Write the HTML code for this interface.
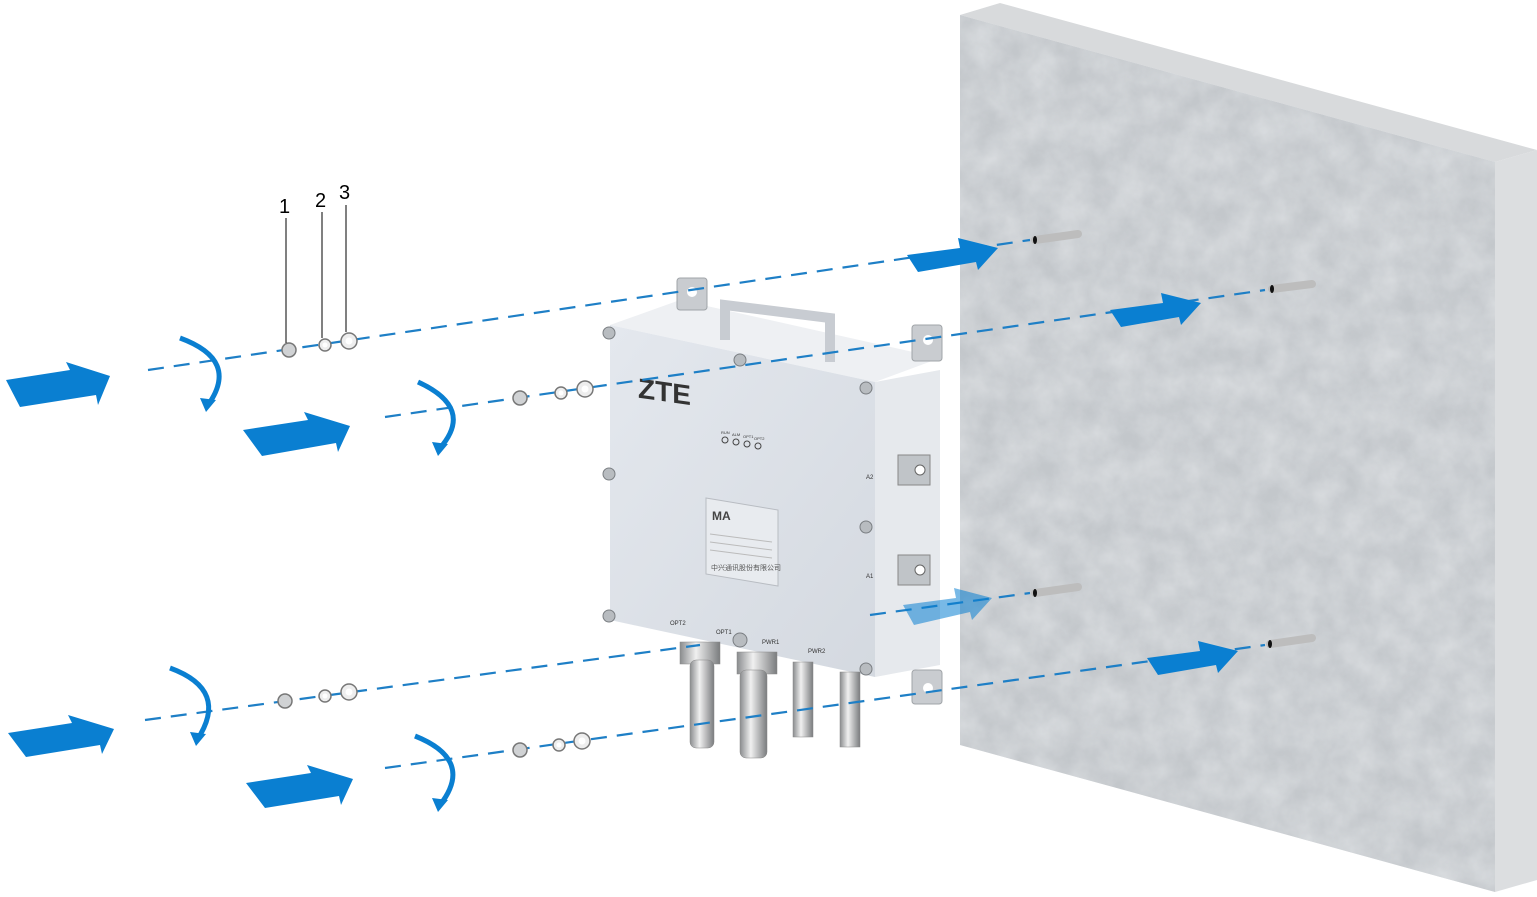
<!DOCTYPE html>
<html><head><meta charset="utf-8"><style>
html,body{margin:0;padding:0;background:#fff;}
svg{display:block;}
text{font-family:"Liberation Sans","Noto Sans CJK SC",sans-serif;}
</style></head><body>
<svg width="1537" height="897" viewBox="0 0 1537 897" xmlns="http://www.w3.org/2000/svg">
<defs>
<filter id="tex" x="0" y="0" width="100%" height="100%">
<feTurbulence type="fractalNoise" baseFrequency="0.035" numOctaves="4" seed="3"/>
<feColorMatrix type="matrix" values="0 0 0 0 0.78  0 0 0 0 0.80  0 0 0 0 0.82  0 0 0 -1.2 1.0"/>
</filter>
<linearGradient id="dev" x1="0" y1="0" x2="1" y2="1"><stop offset="0" stop-color="#e4e8ee"/><stop offset="1" stop-color="#d4d9e0"/></linearGradient>
<linearGradient id="metal" x1="0" y1="0" x2="1" y2="0"><stop offset="0" stop-color="#8a8c8e"/><stop offset=".4" stop-color="#f0f0f0"/><stop offset="1" stop-color="#7a7c7e"/></linearGradient>
</defs>

<!-- wall -->
<polygon points="960,15 1000,3 1537,150 1495,162" fill="#d8dadc"/>
<polygon points="1495,162 1537,150 1537,880 1495,892" fill="#dcdee0"/>
<polygon points="960,15 1495,162 1495,892 960,745" fill="#c3c7cb"/>
<g clip-path="url(#wc)"><clipPath id="wc"><polygon points="960,15 1495,162 1495,892 960,745"/></clipPath>
<rect x="960" y="0" width="540" height="897" fill="#fff" filter="url(#tex)" opacity=".7"/></g>

<!-- wall pins -->
<g stroke-linecap="round">
<line x1="1035" y1="240" x2="1078" y2="234" stroke="#bdbdbd" stroke-width="8"/>
<line x1="1272" y1="289" x2="1312" y2="284" stroke="#bdbdbd" stroke-width="8"/>
<line x1="1035" y1="593" x2="1078" y2="587" stroke="#bdbdbd" stroke-width="8"/>
<line x1="1270" y1="644" x2="1312" y2="638" stroke="#bdbdbd" stroke-width="8"/>
</g>
<g fill="#111"><ellipse cx="1035" cy="240" rx="2" ry="4"/><ellipse cx="1272" cy="289" rx="2" ry="4"/><ellipse cx="1035" cy="593" rx="2" ry="4"/><ellipse cx="1270" cy="644" rx="2" ry="4"/></g>

<!-- device -->
<polygon points="610,325 680,300 940,358 875,382" fill="#eef0f3"/>
<polygon points="875,382 940,370 940,665 875,677" fill="#e6e9ed"/>
<polygon points="610,325 875,382 875,677 610,620" fill="url(#dev)"/>
<path d="M725,340 L725,305 L830,318 L830,362" fill="none" stroke="#c8ccd2" stroke-width="10"/>
<g fill="#c9ccd0" stroke="#a0a4a8"><rect x="677" y="278" width="30" height="32" rx="3"/><rect x="912" y="325" width="30" height="36" rx="3"/><rect x="912" y="670" width="30" height="34" rx="3"/></g>
<g fill="#fff"><circle cx="692" cy="292" r="5"/><circle cx="928" cy="340" r="5"/><circle cx="928" cy="688" r="5"/></g>
<g fill="#b8bcc0" stroke="#7a7e82"><circle cx="609" cy="333" r="6"/><circle cx="609" cy="474" r="6"/><circle cx="609" cy="616" r="6"/><circle cx="740" cy="360" r="6"/><circle cx="866" cy="388" r="6"/><circle cx="866" cy="527" r="6"/><circle cx="866" cy="669" r="6"/><circle cx="740" cy="640" r="7"/></g>
<text x="638" y="398" font-size="28" font-weight="bold" fill="#333" transform="skewY(8) translate(0,-90)">ZTE</text>
<g fill="none" stroke="#444"><circle cx="725" cy="440" r="3"/><circle cx="736" cy="442" r="3"/><circle cx="747" cy="444" r="3"/><circle cx="758" cy="446" r="3"/></g>
<g font-size="4" fill="#333"><text x="721" y="434">RUN</text><text x="732" y="436">ALM</text><text x="743" y="438">OPT1</text><text x="754" y="440">OPT2</text></g>
<polygon points="706,498 778,510 778,586 706,574" fill="#e8ebef" stroke="#b8bcc2"/>
<text x="712" y="520" font-size="12" font-weight="bold" fill="#444">MA</text>
<text x="711" y="570" font-size="7" fill="#555">中兴通讯股份有限公司</text>
<g stroke="#bbb"><line x1="710" y1="534" x2="772" y2="542"/><line x1="710" y1="542" x2="772" y2="550"/><line x1="710" y1="550" x2="772" y2="558"/></g>
<g fill="#c0c4c8" stroke="#888"><rect x="898" y="455" width="32" height="30"/><rect x="898" y="555" width="32" height="30"/></g>
<g fill="#fff" stroke="#666"><circle cx="920" cy="470" r="5"/><circle cx="920" cy="570" r="5"/></g>
<g font-size="6" fill="#333"><text x="866" y="479">A2</text><text x="866" y="578">A1</text><text x="670" y="625">OPT2</text><text x="716" y="634">OPT1</text><text x="762" y="644">PWR1</text><text x="808" y="653">PWR2</text></g>
<g fill="url(#metal)" stroke="#888" stroke-width=".5">
<rect x="680" y="642" width="40" height="22"/><rect x="690" y="660" width="24" height="88" rx="6"/>
<rect x="737" y="652" width="40" height="22"/><rect x="740" y="670" width="27" height="88" rx="6"/>
<rect x="793" y="662" width="20" height="75"/><rect x="840" y="672" width="20" height="75"/>
</g>

<!-- dashed lines -->
<g stroke="#1e7fc6" stroke-width="2.2" stroke-dasharray="16,10" fill="none">
<line x1="148" y1="370" x2="1030" y2="240"/>
<line x1="385" y1="417" x2="1265" y2="290"/>
<line x1="145" y1="720" x2="700" y2="645"/>
<line x1="385" y1="768" x2="1265" y2="645"/>
<line x1="870" y1="615" x2="1030" y2="593"/>
</g>

<!-- blue arrows -->
<g fill="#0a7fd1">
<polygon points="6,380 70,370 66,362 110,376 98,405 96,395 20,407"/>
<polygon points="243,430 308,420 304,412 350,426 338,452 336,443 262,456"/>
<polygon points="8,733 72,723 68,715 114,729 102,754 100,745 26,757"/>
<polygon points="246,783 311,773 307,765 353,779 341,805 339,796 265,808"/>
<polygon points="907,255 960,248 958,238 998,248 978,270 976,262 918,272"/>
<polygon points="1110,310 1163,303 1161,293 1201,303 1181,325 1179,317 1121,327"/>
<polygon points="1147,658 1200,651 1198,641 1238,651 1218,673 1216,665 1158,675"/>
<polygon points="903,605 956,598 954,588 992,598 972,620 970,612 914,625" opacity=".55"/>
</g>
<g fill="none" stroke="#0a7fd1" stroke-width="5">
<path d="M180,338 Q240,360 208,405"/>
<path d="M418,382 Q475,408 440,448"/>
<path d="M170,668 Q230,690 197,740"/>
<path d="M415,736 Q475,760 440,805"/>
</g>
<g fill="#0a7fd1"><polygon points="200,398 216,400 206,412"/><polygon points="432,442 448,444 438,456"/><polygon points="190,732 206,734 196,746"/><polygon points="432,798 448,800 438,812"/></g>

<g fill="#d0d2d4" stroke="#777" stroke-width="1.5">
<circle cx="289" cy="350" r="7"/><circle cx="325" cy="345" r="6" fill="#eee"/><circle cx="349" cy="341" r="8" fill="#eee"/>
<circle cx="520" cy="398" r="7"/><circle cx="561" cy="393" r="6" fill="#eee"/><circle cx="585" cy="389" r="8" fill="#eee"/>
<circle cx="285" cy="701" r="7"/><circle cx="325" cy="696" r="6" fill="#eee"/><circle cx="349" cy="692" r="8" fill="#eee"/>
<circle cx="520" cy="750" r="7"/><circle cx="559" cy="745" r="6" fill="#eee"/><circle cx="582" cy="741" r="8" fill="#eee"/>
</g>
<g fill="#fff" stroke="none"><circle cx="325" cy="345" r="2.5"/><circle cx="349" cy="341" r="3.5"/><circle cx="561" cy="393" r="2.5"/><circle cx="585" cy="389" r="3.5"/><circle cx="325" cy="696" r="2.5"/><circle cx="349" cy="692" r="3.5"/><circle cx="559" cy="745" r="2.5"/><circle cx="582" cy="741" r="3.5"/></g>

<g stroke="#000" stroke-width="1"><line x1="286" y1="218" x2="286" y2="343"/><line x1="322" y1="212" x2="322" y2="338"/><line x1="346" y1="205" x2="346" y2="332"/></g>
<g font-size="20" fill="#000"><text x="279" y="213">1</text><text x="315" y="207">2</text><text x="339" y="199">3</text></g>
</svg>
</body></html>
